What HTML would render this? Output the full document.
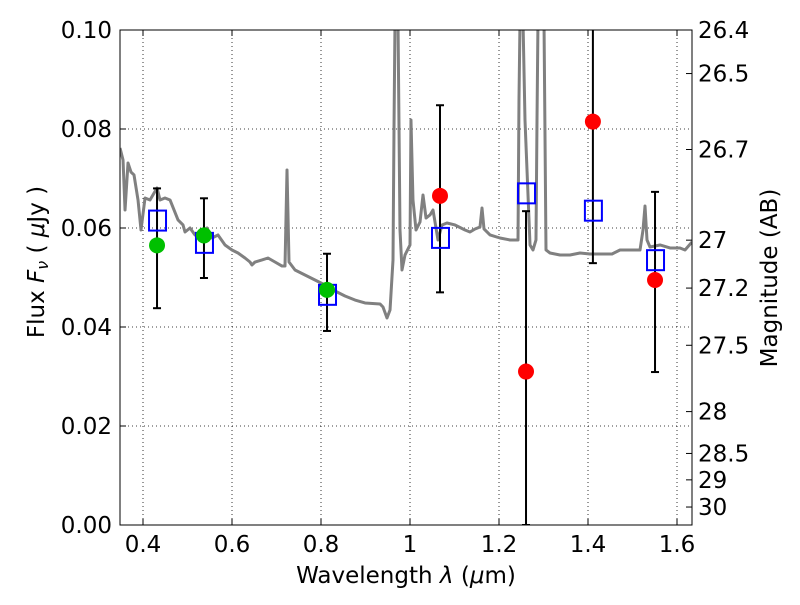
<!DOCTYPE html>
<html><head><meta charset="utf-8"><style>
body{margin:0;background:#fff;}
svg text{font-family:"DejaVu Sans","Liberation Sans",sans-serif;font-size:23px;fill:#000;}
</style></head><body>
<svg id="chart" width="800" height="600" viewBox="0 0 800 600" xmlns="http://www.w3.org/2000/svg"></svg>
<script>
// ---- data ----
const xTicks = [0.4,0.6,0.8,1.0,1.2,1.4,1.6];
const xTickLabels = ["0.4","0.6","0.8","1","1.2","1.4","1.6"];
const yTicks = [0,0.02,0.04,0.06,0.08,0.1];
const yTickLabels = ["0.00","0.02","0.04","0.06","0.08","0.10"];
const magTicks = [26.4,26.5,26.7,27,27.2,27.5,28,28.5,29,30];
const magLabels = ["26.4","26.5","26.7","27","27.2","27.5","28","28.5","29","30"];
const specPx = [[120,148],[123,160],[125,210],[128,163],[131,172],[134,175],[138,200],[141,230],[145,198],[150,200],[157,188],[160,200],[165,198],[170,200],[178,220],[183,225],[185,232],[190,228],[195,235],[200,232],[207,228],[212,238],[218,235],[225,245],[232,250],[238,253],[245,258],[250,262],[252,265],[255,262],[262,260],[268,258],[275,262],[282,266],[285,266],[287,170],[289,262],[295,270],[305,275],[315,280],[325,285],[335,291],[345,296],[355,300],[365,303],[380,304],[383,307],[387,318],[390,310],[393,260],[394,130],[395,20],[398,20],[400,230],[402,270],[405,255],[410,245],[411,120],[413,200],[416,230],[420,222],[423,195],[426,218],[430,215],[433,210],[438,240],[442,225],[447,223],[455,225],[465,230],[470,232],[475,229],[480,227],[482,208],[484,229],[490,235],[500,238],[510,240],[518,240],[519,100],[520,20],[523,20],[525,120],[530,245],[533,250],[536,240],[537,120],[538,20],[544,20],[546,250],[550,253],[560,255],[570,255],[580,253],[590,254],[600,254],[612,254],[620,250],[630,250],[640,250],[643,230],[645,206],[647,240],[650,247],[660,245],[670,248],[680,248],[685,250],[692,242]];
const specWave = specPx.map(p=>+(0.4+(p[0]-143)/445).toFixed(4));
const specFlux = specPx.map(p=>+((525-p[1])/4950).toFixed(5));
const modelWave = [0.4315,0.537,0.8135,1.0674,1.2607,1.411,1.5506];
const modelFlux = [0.0615,0.057,0.0465,0.058,0.067,0.0635,0.0535];
const greenWave = [0.4315,0.537,0.8135];
const greenFlux = [0.0565,0.0585,0.0475];
const redWave = [1.0674,1.2607,1.411,1.5506];
const redFlux = [0.0665,0.031,0.0815,0.0495];
const errWave = [0.4315,0.537,0.8135,1.0674,1.2607,1.411,1.5506];
const errHi = [0.068,0.066,0.0548,0.0848,0.0634,0.12,0.0673];
const errLo = [0.0438,0.0499,0.0392,0.047,0,0.0529,0.0309];

// ---- axes ----
const L=120,R=692,T=30,B=525;
const xmin=0.3483,xmax=1.6337,ymin=0,ymax=0.1;
const sx=v=>L+(v-xmin)/(xmax-xmin)*(R-L);
const sy=v=>B-(v-ymin)/(ymax-ymin)*(B-T);
const smag=m=>sy(Math.pow(10,(23.9-m)/2.5));
const svg=document.getElementById('chart');
const NS='http://www.w3.org/2000/svg';
function mk(tag,attrs,parent){const e=document.createElementNS(NS,tag);for(const k in attrs)e.setAttribute(k,attrs[k]);(parent||svg).appendChild(e);return e;}

const defs=mk('defs',{});
const cp=mk('clipPath',{id:'clip'},defs);mk('rect',{x:L,y:T,width:R-L,height:B-T},cp);

const grid=mk('g',{});


xTicks.forEach(v=>mk('line',{x1:sx(v),x2:sx(v),y1:T,y2:B,stroke:'#000','stroke-width':0.8,'stroke-dasharray':'1,3'},grid));
yTicks.forEach(v=>mk('line',{x1:L,x2:R,y1:sy(v),y2:sy(v),stroke:'#000','stroke-width':0.8,'stroke-dasharray':'1,3'},grid));

const plot=mk('g',{'clip-path':'url(#clip)'});
const sp=mk('polyline',{points:specWave.map((w,i)=>sx(w)+','+sy(specFlux[i])).join(' '),fill:'none',stroke:'#808080','stroke-width':3,'stroke-linejoin':'round'},plot);



errWave.forEach((w,i)=>{
  const g=mk('g',{stroke:'#000','stroke-width':2},plot);
  
  
  mk('line',{x1:sx(w),x2:sx(w),y1:sy(errHi[i]),y2:sy(errLo[i])},g);
  mk('line',{x1:sx(w)-4,x2:sx(w)+4,y1:sy(errHi[i]),y2:sy(errHi[i])},g);
  mk('line',{x1:sx(w)-4,x2:sx(w)+4,y1:sy(errLo[i]),y2:sy(errLo[i])},g);
});
modelWave.forEach((w,i)=>{
  const r=mk('rect',{x:sx(w)-8,y:sy(modelFlux[i])-10,width:17,height:20,fill:'none',stroke:'#0000ff','stroke-width':2},plot);
  
  
});
greenWave.forEach((w,i)=>{
  const c=mk('circle',{cx:sx(w),cy:sy(greenFlux[i]),r:8,fill:'#00c000'},plot);
  
  
});
redWave.forEach((w,i)=>{
  const c=mk('circle',{cx:sx(w),cy:sy(redFlux[i]),r:8,fill:'#ff0000'},plot);
  
  
});

const fr=mk('rect',{x:L,y:T,width:R-L,height:B-T,fill:'none',stroke:'#000','stroke-width':1});



xTicks.forEach((v,i)=>{
  mk('line',{x1:sx(v),x2:sx(v),y1:B,y2:B-6,stroke:'#000'});
  mk('line',{x1:sx(v),x2:sx(v),y1:T,y2:T+6,stroke:'#000'});
  const t=mk('text',{x:sx(v),y:B+27,'text-anchor':'middle'});t.textContent=xTickLabels[i];
  
  
});
yTicks.forEach((v,i)=>{
  mk('line',{x1:L,x2:L+6,y1:sy(v),y2:sy(v),stroke:'#000'});
  const t=mk('text',{x:L-8,y:sy(v)+8,'text-anchor':'end'});t.textContent=yTickLabels[i];
  
  
});
magTicks.forEach((m,i)=>{
  const y=smag(m);
  mk('line',{x1:R,x2:R-6,y1:y,y2:y,stroke:'#000'});
  const t=mk('text',{x:R+6,y:y+8,'text-anchor':'start'});t.textContent=magLabels[i];
  
  
});

const xt=mk('text',{x:406,y:583,'text-anchor':'middle'});
xt.innerHTML='Wavelength  <tspan font-style="italic">λ</tspan> (<tspan font-style="italic">μ</tspan>m)';


const yt=mk('text',{x:0,y:0,'text-anchor':'middle',transform:'translate(44,262) rotate(-90)'});
yt.innerHTML='Flux  <tspan font-style="italic">F</tspan><tspan font-size="16" font-style="italic" dy="4">ν</tspan><tspan dy="-4">  ( </tspan><tspan font-style="italic">μ</tspan>Jy )';


const rt=mk('text',{x:0,y:0,'text-anchor':'middle',transform:'translate(777,278) rotate(-90)'});
rt.textContent='Magnitude (AB)';


</script>
</body></html>
